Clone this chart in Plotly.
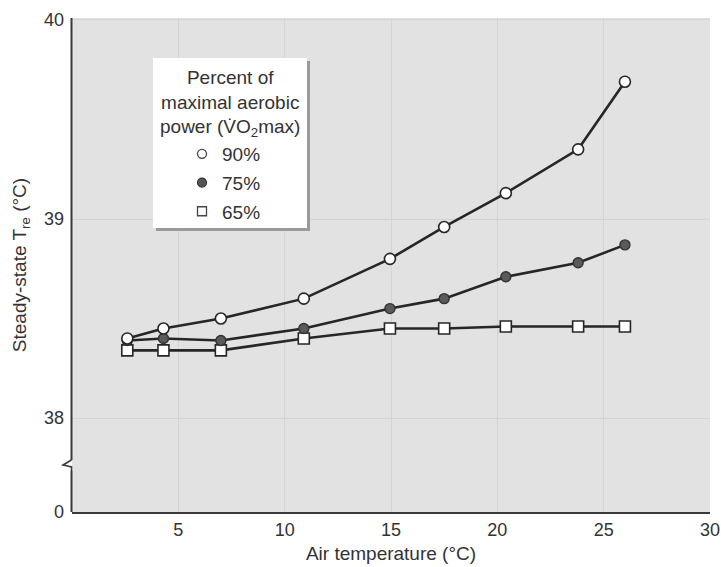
import plotly.graph_objects as go

# ---- data ----
air_temp = [2.6, 4.3, 7.0, 10.9, 14.95, 17.5, 20.4, 23.8, 26.0]
tre_90 = [38.40, 38.45, 38.50, 38.60, 38.80, 38.96, 39.13, 39.35, 39.69]
tre_75 = [38.39, 38.40, 38.39, 38.45, 38.55, 38.60, 38.71, 38.78, 38.87]
tre_65 = [38.34, 38.34, 38.34, 38.40, 38.45, 38.45, 38.46, 38.46, 38.46]
series_names = ["90%", "75%", "65%"]
legend_title = "Percent of<br>maximal aerobic<br>power (V\u0307O<sub>2</sub>max)"
x_ticks = [5, 10, 15, 20, 25, 30]
y_tickvals = [37.528, 38, 39, 40]
y_ticktext = ["0", "38", "39", "40"]

# ---- layout geometry (pixels) ----
W, H = 721, 567
ML, MR, MT, MB = 72, 11, 18, 55
PW, PH = W - ML - MR, H - MT - MB
FONT = "Liberation Sans, Arial, sans-serif"
TXT = "#333333"
LINE = "#262626"

def px2x(px):
    return (px - ML) / PW

def py2y(py):
    return (H - MB - py) / PH

fig = go.Figure()

styles = [
    dict(symbol="circle", size=11, color="white", line=dict(color=LINE, width=1.6)),
    dict(symbol="circle", size=10, color="#5a5a5a", line=dict(color="#333", width=1.4)),
    dict(symbol="square", size=11, color="white", line=dict(color=LINE, width=1.6)),
]
series = list(zip(series_names, [tre_90, tre_75, tre_65], styles))
# draw 65% first so the 90% markers sit on top
for name, ys, st in reversed(series):
    fig.add_trace(go.Scatter(
        x=air_temp, y=ys, mode="lines+markers", name=name, showlegend=False,
        line=dict(color=LINE, width=2.6), marker=st, cliponaxis=False))

# legend-only entries (marker glyphs only)
leg_styles = [
    dict(symbol="circle", size=9, color="white", line=dict(color="#444", width=1.3)),
    dict(symbol="circle", size=9, color="#555", line=dict(color="#333", width=1.2)),
    dict(symbol="square", size=9, color="white", line=dict(color="#444", width=1.3)),
]
for i, (name, st) in enumerate(zip(series_names, leg_styles)):
    fig.add_trace(go.Scatter(x=[None], y=[None], mode="markers", name=name,
                             marker=st, legendgroup=f"g{i}", showlegend=True,
                             legendrank=i + 1))

shapes = []
# legend box shadow + white box
shapes.append(dict(type="rect", xref="paper", yref="paper",
                   x0=px2x(156), x1=px2x(310), y0=py2y(231), y1=py2y(61),
                   fillcolor="#9a9a9a", line=dict(width=0), layer="above"))
shapes.append(dict(type="rect", xref="paper", yref="paper",
                   x0=px2x(153), x1=px2x(307), y0=py2y(228), y1=py2y(58),
                   fillcolor="white", line=dict(width=0), layer="above"))
# y axis line with break
ax = px2x(71.5)
shapes.append(dict(type="line", xref="paper", yref="paper", x0=ax, x1=ax,
                   y0=py2y(460), y1=1.0, line=dict(color="#3a3a3a", width=2)))
shapes.append(dict(type="line", xref="paper", yref="paper", x0=ax, x1=ax,
                   y0=0, y1=py2y(471), line=dict(color="#3a3a3a", width=2)))
zig = (f"M {px2x(71.5)},{py2y(460)} L {px2x(63)},{py2y(465)} "
       f"L {px2x(71.5)},{py2y(467)} L {px2x(71.5)},{py2y(471)}")
shapes.append(dict(type="path", xref="paper", yref="paper", path=zig,
                   line=dict(color="#3a3a3a", width=1.6)))

annotations = [dict(
    text=legend_title, xref="paper", yref="paper", x=px2x(230), y=py2y(65),
    xanchor="center", yanchor="top", align="center", showarrow=False,
    font=dict(size=19, color=TXT, family=FONT))]

fig.update_layout(
    width=W, height=H,
    margin=dict(l=ML, r=MR, t=MT, b=MB, autoexpand=False),
    paper_bgcolor="white", plot_bgcolor="#e2e2e2",
    font=dict(family=FONT, color=TXT, size=18),
    shapes=shapes, annotations=annotations,
    legend=dict(
        x=px2x(162), y=py2y(135), xanchor="left", yanchor="top",
        bgcolor="rgba(0,0,0,0)", borderwidth=0,
        font=dict(size=19, color=TXT, family=FONT),
        indentation=20, tracegroupgap=1, itemwidth=30,
    ),
    xaxis=dict(range=[0, 30], tickvals=x_ticks, ticks="", showline=True,
               linecolor="#3a3a3a", linewidth=2, showgrid=True, gridcolor="#d4d4d4",
               gridwidth=1, zeroline=False, ticklabelstandoff=0,
               tickfont=dict(size=18, color=TXT),
               title=dict(text="Air temperature (°C)", font=dict(size=19, color=TXT),
                          standoff=8)),
    yaxis=dict(range=[37.528, 40.01], tickvals=y_tickvals, ticktext=y_ticktext,
               ticks="", showline=False, showgrid=True, gridcolor="#d4d4d4",
               zeroline=False, ticklabelstandoff=7,
               tickfont=dict(size=18, color=TXT),
               title=dict(text="Steady-state T<sub>re</sub> (°C)",
                          font=dict(size=19, color=TXT), standoff=12)),
)

fig.write_html("out.html")
